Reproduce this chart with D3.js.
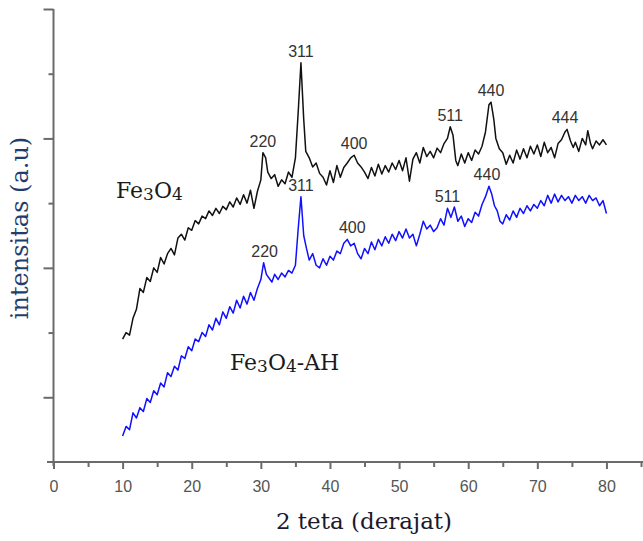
<!DOCTYPE html>
<html><head><meta charset="utf-8">
<script src="https://cdn.jsdelivr.net/npm/d3@7"></script>
<style>body{margin:0;background:#fff}svg{display:block}</style>
</head><body><svg id="c" width="643" height="541"></svg>
<script>
// 2-theta (degrees) and intensity (a.u.) for Fe3O4 (black)
const fe3o4 = [
[10.0,190],[10.5,200],[11.0,196],[11.5,222],[12.0,236],[12.5,268],[13.0,262],[13.5,285],[14.0,279],[14.5,300],
[15.0,293],[15.5,316],[16.0,306],[16.5,322],[17.0,330],[17.5,320],[18.0,346],[18.5,352],[19.0,343],[19.5,362],
[20.0,358],[20.5,373],[21.0,368],[21.5,380],[22.0,376],[22.5,388],[23.0,381],[23.5,392],[24.0,384],[24.5,395],
[25.0,390],[25.5,402],[26.0,394],[26.5,408],[27.0,398],[27.5,413],[28.0,400],[28.5,420],[29.0,392],[29.5,418],
[30.0,436],[30.3,478],[30.7,470],[31.0,448],[31.5,438],[32.0,444],[32.5,426],[33.0,436],[33.5,430],[34.0,448],
[34.5,440],[35.0,470],[35.4,540],[35.8,617],[36.2,530],[36.5,480],[37.0,470],[37.5,456],[38.0,462],[38.5,446],
[39.0,440],[39.5,428],[40.0,450],[40.5,432],[41.0,458],[41.5,440],[42.0,455],[42.5,462],[43.0,470],[43.5,474],
[44.0,462],[44.5,456],[45.0,448],[45.5,438],[46.0,455],[46.5,442],[47.0,460],[47.5,445],[48.0,458],[48.5,448],
[49.0,462],[49.5,452],[50.0,466],[50.5,450],[51.0,470],[51.5,434],[52.0,468],[52.5,478],[53.0,462],[53.5,486],
[54.0,472],[54.5,480],[55.0,470],[55.5,485],[56.0,478],[56.5,492],[57.0,500],[57.4,518],[57.8,505],[58.2,466],
[58.5,458],[59.0,476],[59.5,462],[60.0,478],[60.5,466],[61.0,482],[61.5,476],[62.0,488],[62.5,510],[63.0,552],
[63.3,556],[63.7,530],[64.0,500],[64.5,484],[65.0,478],[65.5,460],[66.0,474],[66.5,462],[67.0,482],[67.5,468],
[68.0,484],[68.5,470],[69.0,488],[69.5,476],[70.0,490],[70.5,472],[71.0,494],[71.5,478],[72.0,486],[72.5,470],
[73.0,492],[73.5,498],[74.0,510],[74.3,514],[74.8,496],[75.2,486],[75.5,494],[76.0,480],[76.5,500],[77.0,490],
[77.3,512],[77.7,492],[78.0,484],[78.5,496],[79.0,490],[79.5,498],[80.0,490]
];
// Fe3O4-AH (blue)
const fe3o4AH = [
[10.0,40],[10.5,55],[11.0,50],[11.5,76],[12.0,68],[12.5,84],[13.0,78],[13.5,98],[14.0,92],[14.5,110],
[15.0,104],[15.5,122],[16.0,116],[16.5,138],[17.0,132],[17.5,148],[18.0,142],[18.5,164],[19.0,160],[19.5,178],
[20.0,172],[20.5,190],[21.0,186],[21.5,200],[22.0,194],[22.5,212],[23.0,204],[23.5,222],[24.0,212],[24.5,232],
[25.0,222],[25.5,240],[26.0,230],[26.5,250],[27.0,238],[27.5,256],[28.0,244],[28.5,262],[29.0,250],[29.5,268],
[30.0,282],[30.4,308],[30.8,290],[31.2,284],[31.6,278],[32.0,290],[32.5,282],[33.0,292],[33.5,286],[34.0,296],
[34.5,292],[35.0,304],[35.4,360],[35.8,410],[36.2,350],[36.6,330],[37.0,312],[37.5,322],[38.0,304],[38.5,300],
[39.0,314],[39.5,304],[40.0,318],[40.5,312],[41.0,326],[41.5,322],[42.0,338],[42.5,344],[43.0,334],[43.5,338],
[44.0,322],[44.5,314],[45.0,330],[45.5,322],[46.0,340],[46.5,328],[47.0,344],[47.5,334],[48.0,348],[48.5,338],
[49.0,352],[49.5,342],[50.0,356],[50.5,346],[51.0,360],[51.5,346],[52.0,352],[52.5,334],[53.0,352],[53.5,372],
[54.0,360],[54.5,366],[55.0,356],[55.5,362],[56.0,376],[56.5,366],[57.0,392],[57.5,378],[58.0,394],[58.5,372],
[59.0,380],[59.5,364],[60.0,376],[60.5,370],[61.0,386],[61.5,380],[62.0,398],[62.5,410],[63.0,426],[63.4,414],
[63.8,396],[64.2,388],[64.6,372],[65.0,368],[65.5,382],[66.0,374],[66.5,388],[67.0,378],[67.5,392],[68.0,384],
[68.5,396],[69.0,388],[69.5,398],[70.0,392],[70.5,404],[71.0,396],[71.5,412],[72.0,400],[72.5,414],[73.0,402],
[73.5,412],[74.0,404],[74.5,410],[75.0,400],[75.5,412],[76.0,404],[76.5,410],[77.0,400],[77.5,412],[78.0,404],
[78.5,408],[79.0,396],[79.5,404],[80.0,384]
];
// peak labels: [label, 2theta, intensity]
const peaksFe3O4 = [["220",30.3,478],["311",35.8,617],["400",43.5,474],["511",57.4,518],["440",63.3,556],["444",74.3,514]];
const peaksAH = [["220",30.4,308],["311",35.8,410],["400",42.5,344],["511",57.0,392],["440",63.0,426]];
const xMajor = [0,10,20,30,40,50,60,70,80];
const xMinor = [5,15,25,35,45,55,65,75,85];
const yMajor = [100,300,500,700];
const yMinor = [200,400,600];

const svg = d3.select("#c");
const x = d3.scaleLinear().domain([0,85]).range([53.5,641]);
const y = d3.scaleLinear().domain([0,700]).range([462,9]);

// axes
const gx = svg.append("g").attr("transform","translate(0,462)");
gx.call(d3.axisBottom(x).tickValues(xMinor).tickSize(5).tickFormat("").tickSizeOuter(0));
gx.call(g=>g.select(".domain").remove());
const gx2 = svg.append("g").attr("transform","translate(0,462)");
gx2.call(d3.axisBottom(x).tickValues(xMajor).tickSize(7).tickPadding(12).tickSizeOuter(0));
gx2.select(".domain").attr("d","M47,0H643");
const gy = svg.append("g").attr("transform","translate(53.5,0)");
gy.call(d3.axisLeft(y).tickValues(yMinor).tickSize(5).tickFormat("").tickSizeOuter(0));
gy.call(g=>g.select(".domain").remove());
const gy2 = svg.append("g").attr("transform","translate(53.5,0)");
gy2.call(d3.axisLeft(y).tickValues(yMajor).tickSize(10).tickFormat("").tickSizeOuter(0));
gy2.select(".domain").attr("d","M0,9V466");
svg.selectAll(".domain").attr("stroke","#6b6b6b").attr("stroke-width",2);
svg.selectAll(".tick line").attr("stroke","#6b6b6b").attr("stroke-width",2);
gx2.selectAll(".tick text").attr("font-family","Liberation Sans, Arial, sans-serif").attr("font-size",16).attr("fill","#555");

// lines
const line = d3.line().x(d=>x(d[0])).y(d=>y(d[1]));
svg.append("path").datum(fe3o4).attr("d",line).attr("fill","none").attr("stroke","#111").attr("stroke-width",1.5).attr("stroke-linejoin","round");
svg.append("path").datum(fe3o4AH).attr("d",line).attr("fill","none").attr("stroke","#1010ff").attr("stroke-width",1.5).attr("stroke-linejoin","round");

// peak labels
function labels(arr, dx){
  svg.append("g").selectAll("text").data(arr).join("text")
    .attr("x",d=>x(d[1])+(dx[d[0]]||0)).attr("y",d=>y(d[2])-6)
    .attr("text-anchor","middle").attr("font-family","Liberation Sans, Arial, sans-serif")
    .attr("font-size",16).attr("fill","#333").text(d=>d[0]);
}
labels(peaksFe3O4, {"444":-2});
labels(peaksAH, {"220":1,"400":5,"511":0,"440":-2});

// series names
function chem(xp, yp, suffix){
  const t = svg.append("text").attr("x",xp).attr("y",yp).attr("font-family","DejaVu Serif, serif").attr("font-size",22).attr("fill","#1a1a1a");
  t.append("tspan").text("Fe");
  t.append("tspan").attr("font-size",17).attr("dy",2).text("3");
  t.append("tspan").attr("dy",-2).text("O");
  t.append("tspan").attr("font-size",17).attr("dy",2).text("4");
  if(suffix) t.append("tspan").attr("dy",-2).text(suffix);
}
chem(116,198,"");
chem(230,370,"-AH");

// axis titles
svg.append("text").attr("x",364).attr("y",529).attr("text-anchor","middle")
  .attr("font-family","DejaVu Serif, serif").attr("font-size",23).attr("fill","#1a1a2e").text("2 teta (derajat)");
svg.append("text").attr("transform","translate(28,228) rotate(-90)").attr("text-anchor","middle")
  .attr("font-family","DejaVu Serif, serif").attr("font-size",24).attr("fill","#1f3d6e").text("intensitas (a.u)");
</script></body></html>
